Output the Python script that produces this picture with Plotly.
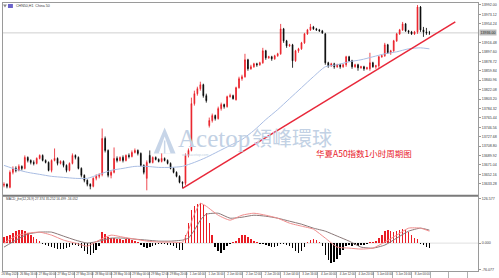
import plotly.graph_objects as go

# ---------------- data ----------------
open_ = [13630,13632,13626,13656,13664,13660,13668,13664,13686,13680,
         13676,13674,13684,13690,13680,13676,13660,13680,13684,13674,
         13678,13670,13660,13674,13690,13686,13664,13650,13640,13632,
         13628,13644,13648,13652,13724,13700,13650,13656,13684,13680,
         13686,13680,13690,13688,13696,13700,13694,13670,13644,13690,
         13676,13686,13682,13678,13684,13680,13674,13664,13656,13648,
         13636,13634,13690,13700,13794,13814,13824,13832,13810,13750,
         13760,13770,13764,13784,13792,13788,13808,13810,13802,13826,
         13844,13848,13882,13864,13868,13874,13872,13876,13900,13886,
         13888,13884,13890,13894,13944,13920,13910,13912,13880,13900,
         13904,13916,13934,13942,13948,13944,13942,13940,13934,13876,
         13870,13874,13868,13872,13868,13872,13888,13880,13868,13872,
         13866,13868,13864,13864,13876,13868,13870,13888,13890,13912,
         13896,13900,13920,13934,13942,13954,13940,13938,13934,13938,
         13988,13942,13938,13936]
high = [13636,13634,13660,13668,13668,13672,13670,13690,13688,13682,
        13680,13686,13692,13692,13682,13678,13682,13704,13686,13680,
        13680,13672,13676,13694,13692,13688,13666,13652,13642,13634,
        13646,13652,13654,13744,13728,13702,13660,13706,13688,13688,
        13690,13692,13694,13700,13704,13702,13696,13672,13680,13700,
        13688,13688,13684,13694,13686,13682,13676,13666,13658,13650,
        13638,13694,13704,13806,13820,13828,13838,13834,13814,13766,
        13774,13772,13788,13796,13794,13810,13814,13812,13828,13848,
        13852,13894,13884,13872,13876,13876,13878,13906,13902,13890,
        13890,13892,13896,13954,13946,13922,13914,13914,13902,13906,
        13918,13936,13944,13954,13950,13946,13944,13942,13936,13878,
        13876,13876,13874,13874,13874,13890,13890,13882,13874,13874,
        13870,13870,13868,13896,13878,13872,13890,13892,13916,13914,
        13902,13922,13936,13944,13958,13956,13942,13940,13940,13992,
        13990,13948,13946,13940]
low = [13626,13624,13624,13652,13656,13658,13660,13662,13676,13672,
       13670,13672,13682,13678,13674,13658,13656,13678,13670,13672,
       13666,13656,13658,13672,13682,13662,13646,13636,13628,13622,
       13626,13640,13644,13648,13696,13646,13644,13654,13676,13678,
       13676,13678,13684,13686,13694,13690,13668,13652,13620,13674,
       13674,13680,13676,13676,13678,13672,13662,13654,13646,13634,
       13624,13630,13686,13698,13790,13810,13820,13806,13796,13746,
       13756,13760,13762,13780,13784,13786,13806,13802,13800,13824,
       13840,13846,13860,13862,13866,13868,13870,13874,13882,13884,
       13880,13882,13888,13892,13916,13906,13908,13866,13878,13896,
       13902,13914,13932,13940,13942,13940,13938,13934,13872,13866,
       13868,13864,13866,13864,13866,13868,13878,13864,13866,13860,
       13864,13860,13862,13860,13866,13864,13866,13886,13888,13894,
       13892,13898,13918,13932,13940,13938,13934,13932,13932,13934,
       13938,13928,13932,13932]
close = [13632,13628,13656,13664,13660,13668,13664,13686,13680,13676,
         13674,13684,13690,13680,13676,13660,13680,13684,13674,13678,
         13670,13660,13674,13690,13686,13664,13650,13640,13632,13628,
         13644,13648,13652,13724,13700,13650,13656,13684,13680,13686,
         13680,13690,13688,13696,13700,13694,13670,13656,13676,13676,
         13686,13682,13678,13684,13680,13674,13664,13656,13648,13636,
         13634,13690,13700,13794,13814,13824,13832,13810,13800,13760,
         13770,13764,13784,13792,13788,13808,13810,13804,13826,13844,
         13848,13882,13864,13868,13874,13872,13876,13900,13886,13888,
         13884,13890,13894,13944,13920,13910,13912,13880,13900,13904,
         13916,13934,13942,13948,13944,13942,13940,13936,13876,13870,
         13874,13868,13872,13868,13872,13888,13880,13868,13872,13866,
         13868,13864,13866,13876,13868,13870,13888,13890,13912,13896,
         13900,13920,13934,13942,13954,13940,13938,13934,13938,13988,
         13942,13938,13936,13936]

# moving average (sampled bars)
ma_idx = [0,4,8,12,16,20,24,28,32,36,40,44,48,52,56,60,64,68,72,76,80,84,88,92,
          96,100,104,108,112,116,120,124,128,132,136,140,143]
ma_val = [13670,13662,13656,13652,13648,13646,13644,13644,13652,13660,13664,13668,
          13668,13666,13666,13668,13676,13686,13698,13710,13722,13740,13762,13782,
          13804,13826,13848,13868,13872,13878,13882,13888,13894,13898,13904,13906,13904]

# MACD histogram (one value per bar)
macd_hist = [17.1,20.0,22.8,28.5,34.2,37.1,37.1,34.2,28.5,22.8,
             17.1,11.4,5.7,-2.9,-5.7,-8.6,-11.4,-14.3,-17.1,-17.1,
             -17.1,-14.3,-11.4,-5.7,-5.7,-8.6,-14.3,-22.8,-31.4,-34.2,
             -28.5,-20.0,-8.6,31.4,25.7,17.1,14.3,14.3,11.4,11.4,
             8.6,11.4,11.4,8.6,5.7,2.9,-5.7,-11.4,-14.3,-11.4,
             -8.6,-5.7,-2.9,-2.9,-2.9,-5.7,-5.7,-8.6,-14.3,-20.0,
             -20.0,22.8,57.0,94.1,105.5,111.2,114.0,108.3,85.5,57.0,
             22.8,-11.4,-22.8,-28.5,-20.0,-8.6,-2.9,2.9,5.7,14.3,
             22.8,22.8,17.1,11.4,5.7,2.9,-2.9,-2.9,-5.7,-8.6,
             -11.4,-11.4,-8.6,-2.9,-2.9,-5.7,-8.6,-14.3,-22.8,-28.5,
             -22.8,-11.4,2.9,8.6,11.4,8.6,2.9,-8.6,-34.2,-48.5,
             -57.0,-54.2,-45.6,-34.2,-20.0,-8.6,-5.7,-8.6,-5.7,-8.6,
             -5.7,-5.7,-2.9,2.9,2.9,5.7,14.3,22.8,34.2,37.1,
             34.2,31.4,34.2,37.1,39.9,37.1,31.4,22.8,14.3,11.4,
             -2.9,-5.7,-11.4,-14.3]

# MACD lines (sampled bars)
line_idx = [0,4,8,12,16,20,24,28,32,36,40,44,48,52,56,60,62,64,66,68,
            72,76,80,84,88,92,96,100,104,108,112,116,120,124,128,132,136,140,143]
macd_dark = [-11.4,8.6,25.7,31.4,31.4,20.0,8.6,0.0,5.7,14.3,14.3,11.4,8.6,5.7,5.7,8.6,
             14.3,37.1,65.6,82.7,
             85.5,71.3,74.1,79.8,77.0,71.3,62.7,54.2,42.8,34.2,20.0,5.7,-11.4,-14.3,-5.7,14.3,34.2,42.8,
             37.1]
macd_pink = [0.0,20.0,28.5,31.4,22.8,8.6,0.0,-8.6,8.6,22.8,17.1,11.4,5.7,2.9,2.9,2.9,
             37.1,82.7,114.0,105.5,
             79.8,65.6,79.8,85.5,79.8,71.3,57.0,48.5,39.9,14.3,-11.4,-14.3,-17.1,-14.3,2.9,22.8,42.8,42.8,
             34.2]

# trend line drawn on the chart (bar index, price)
trend_x = [60, 151.7]
trend_y = [13624, 13958]

# axis labels
price_ticks = [13992.00,13973.12,13954.24,13916.48,13897.60,13878.72,13859.84,13840.96,
               13822.08,13803.20,13784.32,13765.44,13746.56,13727.68,13708.80,13689.92,
               13671.04,13652.16,13633.28]
macd_ticks = [126.577, 0.0, -76.077]
macd_tick_text = ["126.577", "0.000", "-76.077"]
time_labels = ["26 May 2020","26 May 16:00","27 May 00:00","27 May 12:00","27 May 20:00",
               "28 May 04:00","28 May 16:00","29 May 00:00","29 May 12:00","29 May 20:00",
               "1 Jun 04:00","1 Jun 16:00","2 Jun 00:00","2 Jun 12:00","2 Jun 20:00",
               "3 Jun 04:00","3 Jun 16:00","4 Jun 00:00","4 Jun 12:00","4 Jun 20:00",
               "5 Jun 04:00","5 Jun 16:00","8 Jun 00:00"]

# ---------------- styling ----------------
W, H = 499, 278
ML, MR, MT, MB = 3, 17, 2, 7
PW, PH = W - ML - MR, H - MT - MB
RED = "#ea1c24"
FRAME = "#9a9a9a"
TXT = "#3a3a3a"
FONT = "Liberation Sans, Arial, sans-serif"
WM = "#c2d1e4"

def px(x):
    return (x - ML) / PW

def py(y):
    return (H - MB - y) / PH

bars = list(range(len(close)))
xr = [-1/3, -1/3 + PW / 3.0]

fig = go.Figure()

fig.add_trace(go.Candlestick(
    x=bars, open=open_, high=high, low=low, close=close,
    increasing=dict(line=dict(color=RED, width=0.8), fillcolor=RED),
    decreasing=dict(line=dict(color="#000000", width=0.8), fillcolor="#000000"),
    whiskerwidth=0, xaxis="x", yaxis="y", hoverinfo="skip", showlegend=False))

fig.add_trace(go.Scatter(x=ma_idx, y=ma_val, mode="lines",
                         line=dict(color="#a9bde3", width=1, shape="spline", smoothing=0.6),
                         xaxis="x", yaxis="y", hoverinfo="skip", showlegend=False))

fig.add_trace(go.Scatter(x=trend_x, y=trend_y, mode="lines",
                         line=dict(color="#e8283a", width=1.5),
                         xaxis="x", yaxis="y", hoverinfo="skip", showlegend=False))

hist_colors = [RED if v > 0 else "#000000" for v in macd_hist]
fig.add_trace(go.Bar(x=bars, y=macd_hist, marker=dict(color=hist_colors, line=dict(width=0)),
                     width=0.5, xaxis="x2", yaxis="y2", hoverinfo="skip", showlegend=False))
fig.add_trace(go.Scatter(x=line_idx, y=macd_dark, mode="lines",
                         line=dict(color="#8a7878", width=1, shape="spline", smoothing=0.5),
                         xaxis="x2", yaxis="y2", hoverinfo="skip", showlegend=False))
fig.add_trace(go.Scatter(x=line_idx, y=macd_pink, mode="lines",
                         line=dict(color="#f08c8c", width=1, shape="spline", smoothing=0.5),
                         xaxis="x2", yaxis="y2", hoverinfo="skip", showlegend=False))

tick_pos = [2 + 6.3 * k for k in range(len(time_labels))]

main_bottom = py(195)
macd_top = py(196)

fig.update_layout(
    width=W, height=H, autosize=False,
    margin=dict(l=ML, r=MR, t=MT, b=MB, pad=0),
    paper_bgcolor="white", plot_bgcolor="white",
    boxgap=0.62, bargap=0,
    font=dict(family=FONT, size=4, color=TXT),
    showlegend=False,
    xaxis=dict(domain=[0, 1], range=xr, anchor="y", showticklabels=False, ticks="",
               showgrid=False, zeroline=False, showline=True, mirror=True,
               linecolor=FRAME, linewidth=1, rangeslider=dict(visible=False), fixedrange=True),
    yaxis=dict(domain=[main_bottom, 1], range=[13610, 13996], side="right",
               tickmode="array", tickvals=price_ticks, ticktext=["%.2f" % v for v in price_ticks],
               ticks="outside", ticklen=2, tickcolor=FRAME, tickfont=dict(size=3.6, color=TXT),
               showgrid=False, zeroline=False, showline=True, mirror=True,
               linecolor=FRAME, linewidth=1, fixedrange=True),
    xaxis2=dict(domain=[0, 1], range=xr, anchor="y2", matches="x",
                tickmode="array", tickvals=tick_pos, ticktext=time_labels, tickangle=0,
                ticks="", tickfont=dict(size=2.9, color=TXT),
                minor=dict(tickmode="linear", tick0=4.67, dtick=6.3, ticks="outside",
                           ticklen=6, tickcolor="#b0b0b0", showgrid=False),
                showgrid=False, zeroline=False, showline=True, mirror=True,
                linecolor=FRAME, linewidth=1, fixedrange=True),
    yaxis2=dict(domain=[0, macd_top], range=[-79.8, 134], side="right",
                tickmode="array", tickvals=macd_ticks, ticktext=macd_tick_text,
                ticks="outside", ticklen=2, tickcolor=FRAME, tickfont=dict(size=3.6, color=TXT),
                showgrid=False, zeroline=False, showline=True, mirror=True,
                linecolor=FRAME, linewidth=1, fixedrange=True),
)

shapes = []
# current price line
shapes.append(dict(type="line", xref="paper", yref="y", x0=0, x1=1,
                   y0=close[-1], y1=close[-1], line=dict(color="#cfcfcf", width=1), layer="below"))
# MACD zero line
shapes.append(dict(type="line", xref="paper", yref="y2", x0=0, x1=1, y0=0, y1=0,
                   line=dict(color="#e0e0e0", width=1), layer="below"))
# panel separator
shapes.append(dict(type="line", xref="paper", yref="paper", x0=0, x1=1,
                   y0=(main_bottom + macd_top) / 2, y1=(main_bottom + macd_top) / 2,
                   line=dict(color="#7a7a7a", width=2)))
# watermark logo (triangle)
lx0, lx1, lxm = px(155), px(177), px(166)
ly0, ly1 = py(153), py(127)
shapes.append(dict(type="path", xref="paper", yref="paper",
                   path=f"M {lx0} {ly0} L {lxm} {ly1} L {lx1} {ly0} Z",
                   fillcolor="#c7d5e8", line=dict(width=0), layer="below"))
shapes.append(dict(type="path", xref="paper", yref="paper",
                   path=f"M {px(160)} {py(153)} L {px(166)} {py(136)} L {px(172)} {py(153)} Z",
                   fillcolor="white", line=dict(width=0), layer="below"))
shapes.append(dict(type="line", xref="paper", yref="paper", x0=px(166), x1=px(166),
                   y0=py(153), y1=py(140), line=dict(color="#c7d5e8", width=1.5), layer="below"))
# title icons
shapes.append(dict(type="rect", xref="paper", yref="paper", x0=px(8), x1=px(13), y0=py(7), y1=py(3),
                   fillcolor="#6b63c9", line=dict(width=0)))
shapes.append(dict(type="path", xref="paper", yref="paper",
                   path=f"M {px(3)} {py(3.5)} L {px(7)} {py(3.5)} L {px(5)} {py(6.5)} Z",
                   fillcolor="#8a8a8a", line=dict(width=0)))
fig.update_layout(shapes=shapes)

ann = []
ann.append(dict(text="CHN50,H1  China 50", xref="paper", yref="paper", x=px(14), y=py(5),
                xanchor="left", yanchor="middle", showarrow=False,
                font=dict(size=3.6, color=TXT, family=FONT)))
ann.append(dict(text="MACD_jhe(12,26,9) 27.374 35.252 16.499 -16.052", xref="paper", yref="paper",
                x=px(4), y=py(199), xanchor="left", yanchor="middle", showarrow=False,
                font=dict(size=3.2, color=TXT, family=FONT)))
ann.append(dict(text="%.2f" % close[-1], xref="paper", yref="y", x=1, y=close[-1],
                xanchor="left", yanchor="middle", showarrow=False, bgcolor="#bdbdbd",
                borderpad=0.5, xshift=1, font=dict(size=3.6, color="#222", family=FONT)))
ann.append(dict(text="Acetop", xref="paper", yref="paper", x=px(178), y=py(138.5),
                xanchor="left", yanchor="middle", showarrow=False, borderpad=0,
                font=dict(size=25, color=WM, family="Liberation Serif, DejaVu Serif, serif")))
ann.append(dict(text="領峰環球", xref="paper", yref="paper", x=px(253), y=py(137.5),
                xanchor="left", yanchor="middle", showarrow=False, borderpad=0,
                font=dict(size=20, color=WM, family="Noto Sans CJK TC")))
ann.append(dict(text="www.acetop.com", xref="paper", yref="paper", x=px(182), y=py(155),
                xanchor="left", yanchor="middle", showarrow=False, borderpad=0,
                font=dict(size=3.5, color=WM, family=FONT)))
ann.append(dict(text="华夏A50指数1小时周期图", xref="paper", yref="paper", x=px(367), y=py(153),
                xanchor="center", yanchor="middle", showarrow=False, borderpad=0,
                font=dict(size=8.5, color="#e8202a", family="Noto Sans CJK SC")))
fig.update_layout(annotations=ann)

fig.write_html("out.html", config={"displayModeBar": False, "staticPlot": True})
